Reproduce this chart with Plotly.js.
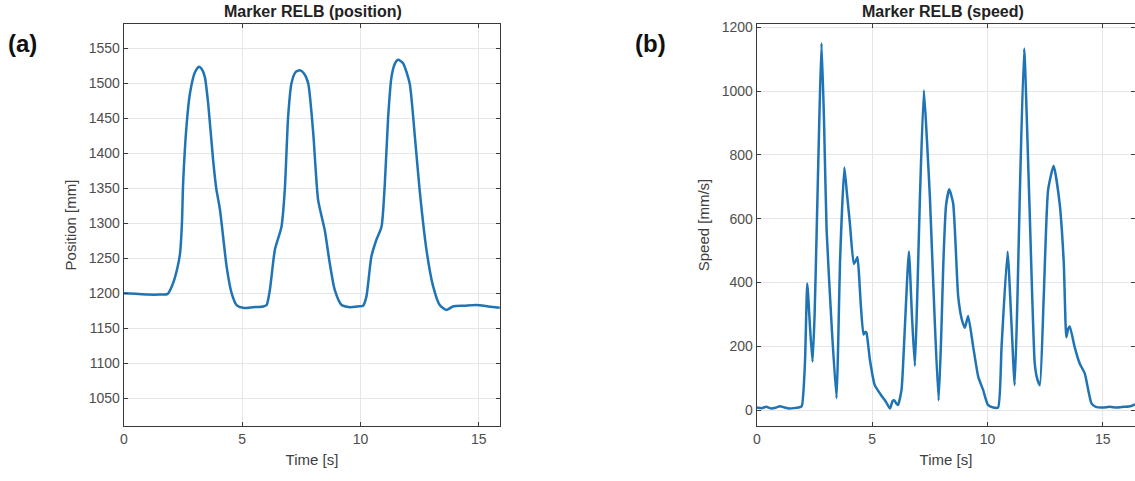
<!DOCTYPE html>
<html>
<head>
<meta charset="utf-8">
<script src="https://cdn.plot.ly/plotly-3.0.1.min.js"></script>
<style>
  html, body { margin: 0; padding: 0; background: #ffffff; }
  #chart { width: 1135px; height: 481px; }
</style>
</head>
<body>
<div id="chart"></div>
<script>
// Marker RELB trajectory: elbow position (mm) and speed (mm/s) over time (s)
const timePos = [0, 0.5, 1.0, 1.5, 1.85, 2.05, 2.25, 2.37, 2.45, 2.5, 2.65, 2.79, 3.0, 3.17, 3.3, 3.42, 3.56, 3.77, 3.9, 4.06, 4.34, 4.55, 4.76, 5.04, 5.46, 5.89, 6.03, 6.17, 6.38, 6.66, 6.8, 6.94, 7.08, 7.25, 7.44, 7.62, 7.79, 8.0, 8.21, 8.49, 8.7, 8.91, 9.2, 9.55, 9.9, 10.11, 10.25, 10.46, 10.67, 10.89, 11.03, 11.17, 11.31, 11.45, 11.59, 11.8, 12.08, 12.29, 12.5, 12.79, 13.07, 13.35, 13.63, 13.91, 14.4, 14.9, 15.4, 15.89];
const position = [1200, 1199, 1198, 1198, 1199, 1212, 1235, 1257, 1300, 1357, 1442, 1486, 1516, 1524, 1520, 1509, 1471, 1390, 1350, 1319, 1238, 1200, 1183, 1179, 1180, 1181, 1183, 1205, 1262, 1295, 1348, 1452, 1500, 1516, 1519, 1514, 1500, 1430, 1333, 1290, 1243, 1205, 1183, 1180, 1181, 1182, 1195, 1252, 1276, 1295, 1357, 1452, 1509, 1528, 1534, 1529, 1500, 1428, 1348, 1262, 1210, 1183, 1176, 1181, 1182, 1183, 1181, 1179];

const timeSpd = [0, 0.2, 0.4, 0.6, 0.8, 1.0, 1.2, 1.4, 1.6, 1.8, 1.94, 2.08, 2.18, 2.3, 2.41, 2.5, 2.59, 2.7, 2.8, 2.91, 3.02, 3.25, 3.45, 3.52, 3.6, 3.79, 3.9, 4.03, 4.2, 4.3, 4.36, 4.43, 4.5, 4.62, 4.7, 4.75, 4.9, 5.11, 5.4, 5.6, 5.77, 5.88, 5.95, 6.05, 6.12, 6.27, 6.41, 6.59, 6.72, 6.85, 6.95, 7.07, 7.24, 7.37, 7.5, 7.7, 7.88, 8.0, 8.08, 8.2, 8.34, 8.51, 8.73, 8.9, 9.02, 9.16, 9.38, 9.6, 9.81, 10.02, 10.25, 10.46, 10.61, 10.87, 11.04, 11.18, 11.3, 11.4, 11.59, 11.81, 12.05, 12.15, 12.27, 12.44, 12.63, 12.87, 13.13, 13.31, 13.42, 13.5, 13.57, 13.78, 14.0, 14.22, 14.51, 14.7, 15.0, 15.3, 15.6, 15.9, 16.2, 16.4];
const speed = [8, 6, 10, 5, 7, 12, 8, 5, 6, 8, 12, 146, 397, 260, 151, 300, 564, 900, 1150, 900, 564, 250, 37, 200, 460, 760, 680, 585, 458, 470, 480, 420, 334, 237, 245, 242, 157, 78, 45, 25, 5, 28, 31, 20, 16, 63, 251, 497, 300, 138, 350, 669, 1002, 850, 669, 300, 30, 250, 450, 640, 692, 648, 355, 280, 258, 295, 198, 104, 63, 16, 8, 8, 198, 496, 272, 78, 350, 669, 1133, 669, 146, 100, 78, 355, 690, 766, 648, 460, 228, 255, 262, 198, 146, 115, 21, 10, 8, 10, 8, 10, 12, 18];

const timeTicks = [0, 5, 10, 15];
const posTicks = [1050, 1100, 1150, 1200, 1250, 1300, 1350, 1400, 1450, 1500, 1550];
const spdTicks = [0, 200, 400, 600, 800, 1000, 1200];

const lineColor = '#1f74b6';
const frameColor = '#3a3a3a';
const gridColor = '#e6e6e6';
const fontFamily = 'Liberation Sans, Arial, sans-serif';
const tickFont = { family: fontFamily, size: 14, color: '#4d4d4d' };
const titleFont = { family: fontFamily, size: 15, color: '#404040' };

function axisStyle(extra) {
  return Object.assign({
    showgrid: true, gridcolor: gridColor, gridwidth: 1,
    showline: true, linecolor: frameColor, linewidth: 1.3, mirror: 'ticks',
    ticks: 'inside', ticklen: 4, tickcolor: frameColor,
    zeroline: false, tickfont: tickFont, automargin: false, fixedrange: true
  }, extra);
}

const traces = [
  { x: timePos, y: position, xaxis: 'x', yaxis: 'y', type: 'scatter', mode: 'lines',
    line: { color: lineColor, width: 2.5, shape: 'spline', smoothing: 0.6 }, hoverinfo: 'x+y' },
  { x: timeSpd, y: speed, xaxis: 'x2', yaxis: 'y2', type: 'scatter', mode: 'lines',
    line: { color: lineColor, width: 2.5, shape: 'spline', smoothing: 0.5 }, hoverinfo: 'x+y' }
];

const layout = {
  width: 1135, height: 481,
  margin: { l: 0, r: 0, t: 0, b: 0 },
  paper_bgcolor: '#ffffff', plot_bgcolor: '#ffffff',
  showlegend: false,
  xaxis: axisStyle({ domain: [124 / 1135, 500 / 1135], range: [0, 15.9], anchor: 'y',
    tickvals: timeTicks, ticktext: timeTicks.map(String),
    title: { text: 'Time [s]', font: titleFont, standoff: 8 } }),
  yaxis: axisStyle({ domain: [1 - 426 / 481, 1 - 24 / 481], range: [1010, 1585], anchor: 'x',
    tickvals: posTicks, ticktext: posTicks.map(String),
    title: { text: 'Position [mm]', font: titleFont, standoff: 8 } }),
  xaxis2: axisStyle({ domain: [757 / 1135, 1], range: [0, 16.4], anchor: 'y2',
    tickvals: timeTicks, ticktext: timeTicks.map(String),
    title: { text: 'Time [s]', font: titleFont, standoff: 8 } }),
  yaxis2: axisStyle({ domain: [1 - 426 / 481, 1 - 24 / 481], range: [-50, 1210], anchor: 'x2',
    tickvals: spdTicks, ticktext: spdTicks.map(String),
    title: { text: 'Speed [mm/s]', font: titleFont, standoff: 8 } }),
  annotations: [
    { text: '<b>Marker RELB (position)</b>', xref: 'paper', yref: 'paper',
      x: 313 / 1135, y: 1 - 11 / 481, xanchor: 'center', yanchor: 'middle', showarrow: false,
      font: { family: fontFamily, size: 16, color: '#222222' } },
    { text: '<b>Marker RELB (speed)</b>', xref: 'paper', yref: 'paper',
      x: 943 / 1135, y: 1 - 11 / 481, xanchor: 'center', yanchor: 'middle', showarrow: false,
      font: { family: fontFamily, size: 16, color: '#222222' } },
    { text: '<b>(a)</b>', xref: 'paper', yref: 'paper',
      x: 6 / 1135, y: 1 - 43 / 481, xanchor: 'left', yanchor: 'middle', showarrow: false,
      font: { family: fontFamily, size: 24, color: '#111111' } },
    { text: '<b>(b)</b>', xref: 'paper', yref: 'paper',
      x: 633 / 1135, y: 1 - 43 / 481, xanchor: 'left', yanchor: 'middle', showarrow: false,
      font: { family: fontFamily, size: 24, color: '#111111' } }
  ]
};

Plotly.newPlot('chart', traces, layout, { displayModeBar: false, staticPlot: true });
</script>
</body>
</html>
